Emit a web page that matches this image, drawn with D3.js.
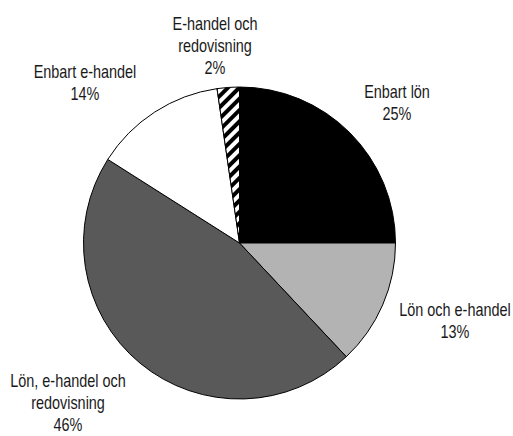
<!DOCTYPE html>
<html>
<head>
<meta charset="utf-8">
<script src="https://cdn.jsdelivr.net/npm/d3@7"></script>
<style>
  html, body { margin: 0; padding: 0; background: #fff; }
  svg { display: block; }
  text { font-family: "Liberation Sans", Arial, sans-serif; font-size: 18.5px; fill: #1a1a1a; }
</style>
</head>
<body>
<svg id="chart" width="513" height="436"></svg>
<script>
// ---- data ----
const categories = ["Enbart lön", "Lön och e-handel", "Lön, e-handel och redovisning", "Enbart e-handel", "E-handel och redovisning"];
const values = [25, 13, 46, 13.7, 2.3];
const labelLines = [
  ["Enbart lön", "25%"],
  ["Lön och e-handel", "13%"],
  ["Lön, e-handel och", "redovisning", "46%"],
  ["Enbart e-handel", "14%"],
  ["E-handel och", "redovisning", "2%"]
];

// ---- layout / style ----
const W = 513, H = 436;
const cx = 239.5, cy = 243, R = 156;
const fills = ["#000000", "#b3b3b3", "#595959", "#ffffff", "url(#hatch)"];
// label anchors (center x, first baseline y)
const labelPos = [[397, 98], [455, 316], [68, 387], [85, 78], [215, 30]];
const lineH = 22;
const squeeze = 0.78;

const svg = d3.select("#chart");
const defs = svg.append("defs");
const pat = defs.append("pattern")
  .attr("id", "hatch").attr("patternUnits", "userSpaceOnUse")
  .attr("width", 8).attr("height", 8)
  .attr("patternTransform", "rotate(45)");
pat.append("rect").attr("width", 8).attr("height", 8).attr("fill", "#fff");
pat.append("rect").attr("width", 4).attr("height", 8).attr("fill", "#000");

const pie = d3.pie().sort(null).value(d => d)
  .startAngle(0).endAngle(2 * Math.PI);
const arc = d3.arc().innerRadius(0).outerRadius(R);

const g = svg.append("g").attr("transform", `translate(${cx},${cy})`);
g.selectAll("path").data(pie(values)).join("path")
  .attr("d", arc)
  .attr("fill", (d, i) => fills[i])
  .attr("stroke", "#000")
  .attr("stroke-width", 1)
  .attr("stroke-linejoin", "round");

const lab = svg.append("g");
labelLines.forEach((lines, i) => {
  const t = lab.append("text")
    .attr("text-anchor", "middle")
    .attr("transform", `translate(${labelPos[i][0]},${labelPos[i][1]}) scale(${squeeze},1)`);
  lines.forEach((s, j) => {
    t.append("tspan").attr("x", 0).attr("dy", j === 0 ? 0 : lineH).text(s);
  });
});
</script>
</body>
</html>
